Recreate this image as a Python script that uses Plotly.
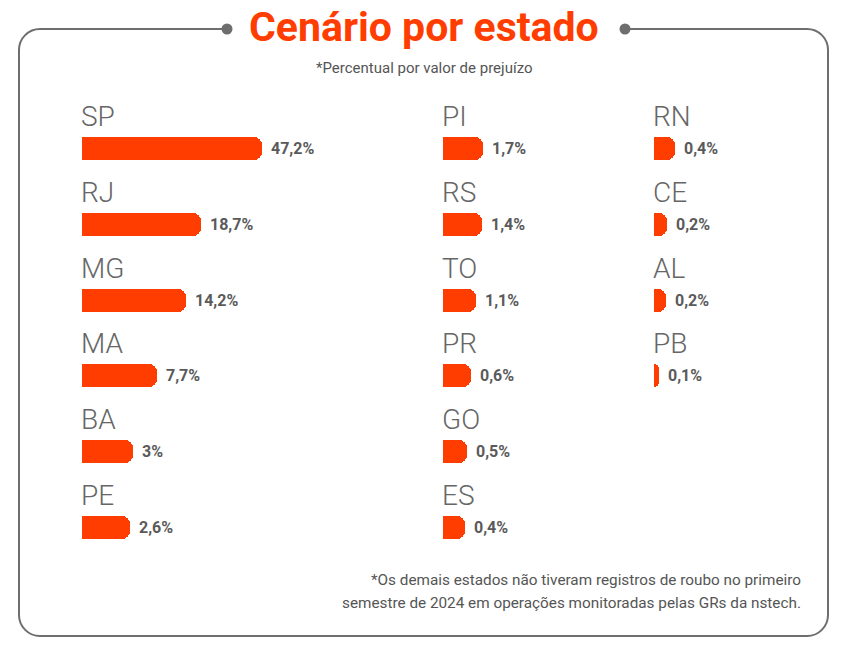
import plotly.graph_objects as go

# ---------------- data ----------------
states = ["SP", "RJ", "MG", "MA", "BA", "PE",
          "PI", "RS", "TO", "PR", "GO", "ES",
          "RN", "CE", "AL", "PB"]
shares = [47.2, 18.7, 14.2, 7.7, 3.0, 2.6,
          1.7, 1.4, 1.1, 0.6, 0.5, 0.4,
          0.4, 0.2, 0.2, 0.1]
share_labels = ["47,2%", "18,7%", "14,2%", "7,7%", "3%", "2,6%",
                "1,7%", "1,4%", "1,1%", "0,6%", "0,5%", "0,4%",
                "0,4%", "0,2%", "0,2%", "0,1%"]
# bar lengths as drawn in the infographic (relative, SP = 100)
bar_lengths = [100, 66.1, 57.8, 41.7, 28.3, 26.7,
               22.2, 21.7, 18.3, 15.6, 13.3, 12.2,
               11.7, 7.2, 6.7, 2.8]
column_sizes = [6, 6, 4]

title = "Cenário por estado"
subtitle = "*Percentual por valor de prejuízo"
footnote_1 = "*Os demais estados não tiveram registros de roubo no primeiro"
footnote_2 = "semestre de 2024 em operações monitoradas pelas GRs da nstech."

# ---------------- style ----------------
PAGE_OFF = 8                     # default body margin of the html page
W, H = 862 - PAGE_OFF, 652 - PAGE_OFF
ORANGE = "#FF3D00"
GRAY_LINE = "#6e6e6e"
GRAY_TXT = "#666666"
GRAY_VAL = "#5a5a5a"
FONT = "Roboto, 'Open Sans', sans-serif"
TITLE_FONT = "Roboto, sans-serif"

col_starts = [82, 443, 654]      # px of bar base per column (page coords)
unit_px = 1.8                    # px per length unit
row0_px, row_step = 148.5, 75.79
bar_h_px = 23


def fx(x):
    return (x - PAGE_OFF) / W


def fy(y):
    return 1 - (y - PAGE_OFF) / H


fig = go.Figure()

start = 0
axis_names = ["x", "x2", "x3"]
layout_axes = {}
for c, n in enumerate(column_sizes):
    idx = list(range(start, start + n))
    start += n
    xa = axis_names[c]
    rows = list(range(n))
    fig.add_trace(go.Bar(
        x=[bar_lengths[i] for i in idx],
        y=rows,
        orientation="h",
        width=bar_h_px / row_step,
        marker=dict(color=ORANGE, cornerradius=8, line=dict(width=0)),
        xaxis=xa, yaxis="y",
        hoverinfo="skip",
        showlegend=False,
    ))
    x0 = col_starts[c]
    key = "xaxis" if c == 0 else f"xaxis{c + 1}"
    layout_axes[key] = dict(domain=[fx(x0), fx(x0 + 100 * unit_px)],
                            range=[0, 100], visible=False, fixedrange=True,
                            anchor="y")
    for r, i in zip(rows, idx):
        # state label above bar
        fig.add_annotation(x=0, y=r, xref=xa, yref="y", text=states[i],
                           xanchor="left", yanchor="middle", showarrow=False,
                           xshift=-3, yshift=32,
                           font=dict(family=FONT, size=28, color=GRAY_TXT,
                                     weight=300))
        # value label right of bar
        fig.add_annotation(x=bar_lengths[i], y=r, xref=xa, yref="y",
                           text=share_labels[i], xanchor="left",
                           yanchor="middle", showarrow=False, xshift=7,
                           font=dict(family=FONT, size=16, color=GRAY_VAL,
                                     weight="bold"))

top_val = -(row0_px - PAGE_OFF) / row_step
bot_val = (H - (row0_px - PAGE_OFF)) / row_step
fig.update_layout(**layout_axes)
fig.update_layout(
    yaxis=dict(range=[bot_val, top_val], domain=[0, 1], visible=False,
               fixedrange=True),
    width=W, height=H,
    margin=dict(l=0, r=0, t=0, b=0),
    paper_bgcolor="white", plot_bgcolor="white",
    bargap=0,
)

# frame with gap for title
r = 21
k = 0.5523 * r
L, R, T, B = 19, 828, 29, 636
dot_l, dot_r = 227, 625


def P(x, y):
    return f"{fx(x):.5f},{fy(y):.5f}"


path = (f"M {P(dot_l, T)} L {P(L + r, T)} "
        f"C {P(L + r - k, T)} {P(L, T + r - k)} {P(L, T + r)} "
        f"L {P(L, B - r)} "
        f"C {P(L, B - r + k)} {P(L + r - k, B)} {P(L + r, B)} "
        f"L {P(R - r, B)} "
        f"C {P(R - r + k, B)} {P(R, B - r + k)} {P(R, B - r)} "
        f"L {P(R, T + r)} "
        f"C {P(R, T + r - k)} {P(R - r + k, T)} {P(R - r, T)} "
        f"L {P(dot_r, T)}")
fig.add_shape(type="path", path=path, xref="paper", yref="paper",
              line=dict(color=GRAY_LINE, width=2), layer="below")
for dx in (dot_l, dot_r):
    fig.add_shape(type="circle", xref="paper", yref="paper",
                  x0=fx(dx - 5.5), x1=fx(dx + 5.5),
                  y0=fy(T + 5.5), y1=fy(T - 5.5),
                  fillcolor=GRAY_LINE, line=dict(width=0))

fig.add_annotation(x=fx(424), y=fy(27), xref="paper", yref="paper",
                   text=f"<b>{title}</b>", showarrow=False,
                   xanchor="center", yanchor="middle",
                   font=dict(family=TITLE_FONT, size=41, color=ORANGE))
fig.add_annotation(x=fx(424), y=fy(68), xref="paper", yref="paper",
                   text=subtitle, showarrow=False,
                   xanchor="center", yanchor="middle",
                   font=dict(family=FONT, size=15, color="#555555"))
fig.add_annotation(x=fx(803), y=fy(580), xref="paper", yref="paper",
                   text=footnote_1, showarrow=False,
                   xanchor="right", yanchor="middle",
                   font=dict(family=FONT, size=15.3, color="#555555"))
fig.add_annotation(x=fx(803), y=fy(603), xref="paper", yref="paper",
                   text=footnote_2, showarrow=False,
                   xanchor="right", yanchor="middle",
                   font=dict(family=FONT, size=15.3, color="#555555"))

fig.write_html("out.html")
